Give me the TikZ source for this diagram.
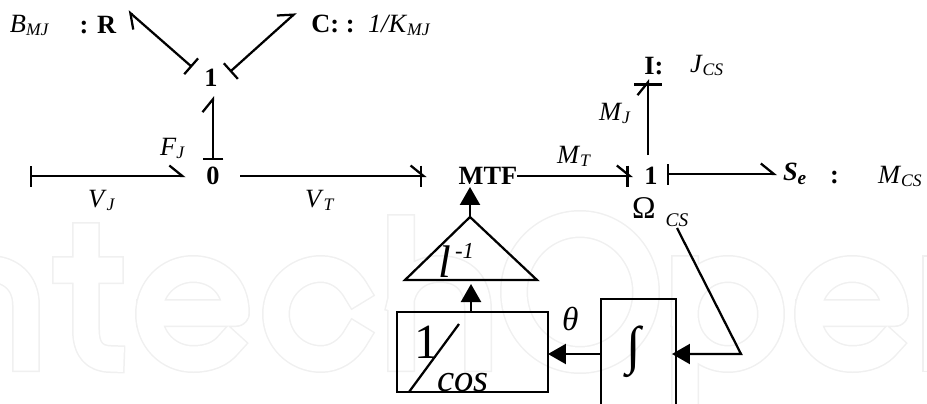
\documentclass[tikz,border=0pt]{standalone}
\usepackage{fontspec}
\setmainfont{Liberation Serif}
\usetikzlibrary{arrows.meta}
\newcommand{\fz}[1]{\fontsize{#1}{#1}\selectfont}
\newcommand{\sbs}[2]{\textit{#1}\raisebox{-.28ex}{\fz{10}\textit{#2}}}

\begin{document}
\begin{tikzpicture}[x=.02cm,y=-.02cm,font=\fz{15},line width=.045cm,
 port/.style={inner sep=0,outer sep=0},
 lab/.style={inner sep=0,outer sep=0,anchor=base west},
 wm/.style={draw=black!6,line width=.03cm,double=white,double distance=.5cm,line cap=rect,line join=round},
 bondout/.style={{Bar[width=.42cm]}-{Straight Barb[harpoon,length=.26cm,width=.42cm]}},
 bondin/.style={shorten >=-.08cm,-{Bar[width=#1,sep=-.26cm]Straight Barb[harpoon,length=.26cm,width=.42cm]}},
 bondin/.default=.42cm,
 sig/.style={-{Triangle[length=.36cm,width=.4cm]}},
 blockbox/.style={draw,inner sep=0,outer sep=0}]
\path[use as bounding box,clip] (0,0) rectangle (927,403);

\draw[wm] (26,358) -- (26,305) .. controls (26,282) and (10,269) .. (-10,269) .. controls (-30,269) and (-45,285) .. (-45,305);
\draw[wm] (86,236) -- (86,330) .. controls (86,350) and (95,359) .. (111,359) (66,270) -- (110,270);
\foreach \ex in {193,852} {
 \draw[wm,shift={(\ex,0)}] (-43,313) -- (43,313) .. controls (43,287) and (25,269) .. (0,269) .. controls (-25,269) and (-44,289) .. (-44,314) .. controls (-44,339) and (-25,359) .. (0,359) .. controls (16,359) and (28,354) .. (36,344);
}
\draw[wm] (356,291) .. controls (348,277) and (335,269) .. (321,269) .. controls (296,269) and (276,289) .. (276,314) .. controls (276,339) and (296,359) .. (321,359) .. controls (335,359) and (348,351) .. (356,337);
\draw[wm] (401,228) -- (401,358) (401,300) .. controls (405,280) and (420,269) .. (440,269) .. controls (465,269) and (478,285) .. (478,310) -- (478,358);
\draw[wm] (580,292) circle[x radius=66,y radius=68];
\draw[wm] (685,269) -- (685,420) (685,314) .. controls (685,289) and (703,269) .. (728,269) .. controls (752,269) and (771,289) .. (771,314) .. controls (771,339) and (752,359) .. (728,359) .. controls (703,359) and (685,339) .. (685,314);
\draw[wm] (936,269) -- (936,358);

\node[port,minimum width=1.1cm,minimum height=.64cm] (zero) at (213,176) {\textbf{0}};
\node[port,minimum width=.76cm,minimum height=.72cm] (onetop) at (211,78) {\textbf{1}};
\node[port,minimum width=.76cm,minimum height=.84cm] (onert) at (648,176) {\hspace{.12cm}\textbf{1}};
\node[port,minimum width=1.2cm,minimum height=.56cm] (rr) at (98,25) {\textbf{: R}};
\node[port,minimum width=1.48cm,minimum height=.46cm] (cc) at (333,24) {\textbf{C: :}};
\node[lab] (bmj) at (10,32) {\sbs{B}{MJ}};
\node[lab] (kmj) at (368,32) {\sbs{1/K}{MJ}};
\node[port,minimum height=.68cm] (ii) at (654,66) {\textbf{I:}};
\node[lab] (jcs) at (690,72) {\sbs{J}{CS}};
\node[port,minimum height=.44cm] (mtf) at (488,176) {\textbf{MTF}};
\node[port,anchor=west,minimum height=.4cm] (se) at (777,174) {\hspace{.12cm}\textbf{\textit{S}}\raisebox{-.28ex}{\fz{11}\textbf{\textit{e}}}};
\node[lab] (secolon) at (830,183) {\textbf{:}};
\node[lab] (mcs) at (878,183) {\sbs{M}{CS}};
\node[lab] (fj) at (160,155) {\sbs{F}{J}};
\node[lab] (vj) at (88,207) {\sbs{V}{J}};
\node[lab] (vt) at (305,207) {\sbs{V}{T}};
\node[lab] (mt) at (557,163) {\sbs{M}{T}};
\node[lab] (mj) at (599,120) {\sbs{M}{J}};
\node[lab,font=\fz{18}] (omega) at (632,218) {Ω};
\node[port,minimum height=.32cm,font=\fz{11}\itshape] (cs) at (677,220) {CS};

\coordinate (vjend) at (30,176);
\draw[bondout] (vjend) -- (zero.west);
\draw[bondin] (zero.east) -- ([xshift=-.72cm]mtf.west);
\draw[bondout] (zero.north) -- (zero.north|-onetop.south);
\draw[bondout] (onetop.150) -- (rr.north east);
\draw[bondout] (onetop.18) -- (cc.north west);
\draw[bondin] (mtf.east) -- (onert.west);
\draw[bondout] (onert.east|-se.west) -- (se.west);
\draw[bondin=.56cm] (onert.north) -- (onert.north|-ii.south);

\coordinate (tip) at (470,217);
\coordinate (tribase) at (471,284);
\draw (405,280) -- (tip) -- (537,280) -- cycle;
\node[lab,font=\fz{26}\itshape] (gain) at (438,277) {l};
\node[lab,font=\fz{13}\itshape] (gainexp) at (455,258) {-1};
\draw[sig] (tip) -- (tip|-mtf.south);

\node[blockbox,minimum width=3.02cm,minimum height=1.6cm] (boxcos) at (472.5,352) {};
\node[lab,font=\fz{28}] (num) at (414,358) {1};
\node[lab,font=\fz{22}\itshape] (den) at (437,391) {cos};
\draw (409,392) -- (459,324);
\draw[sig] (boxcos.north-|tribase) -- (tribase);

\node[blockbox,minimum width=1.5cm,minimum height=2.42cm] (intbox) at (638.5,359.5) {};
\node[port,font=\fz{30}] (intg) at (634,352) {∫};
\node[lab,font=\fz{19}\itshape] (theta) at (562,330) {θ};
\coordinate (kink) at (741,354);
\draw[sig] (kink-|intbox.west) -- (kink-|boxcos.east);
\draw[sig] (cs.south) -- (kink) -- ([xshift=-.08cm]kink-|intbox.east);
\end{tikzpicture}
\end{document}
